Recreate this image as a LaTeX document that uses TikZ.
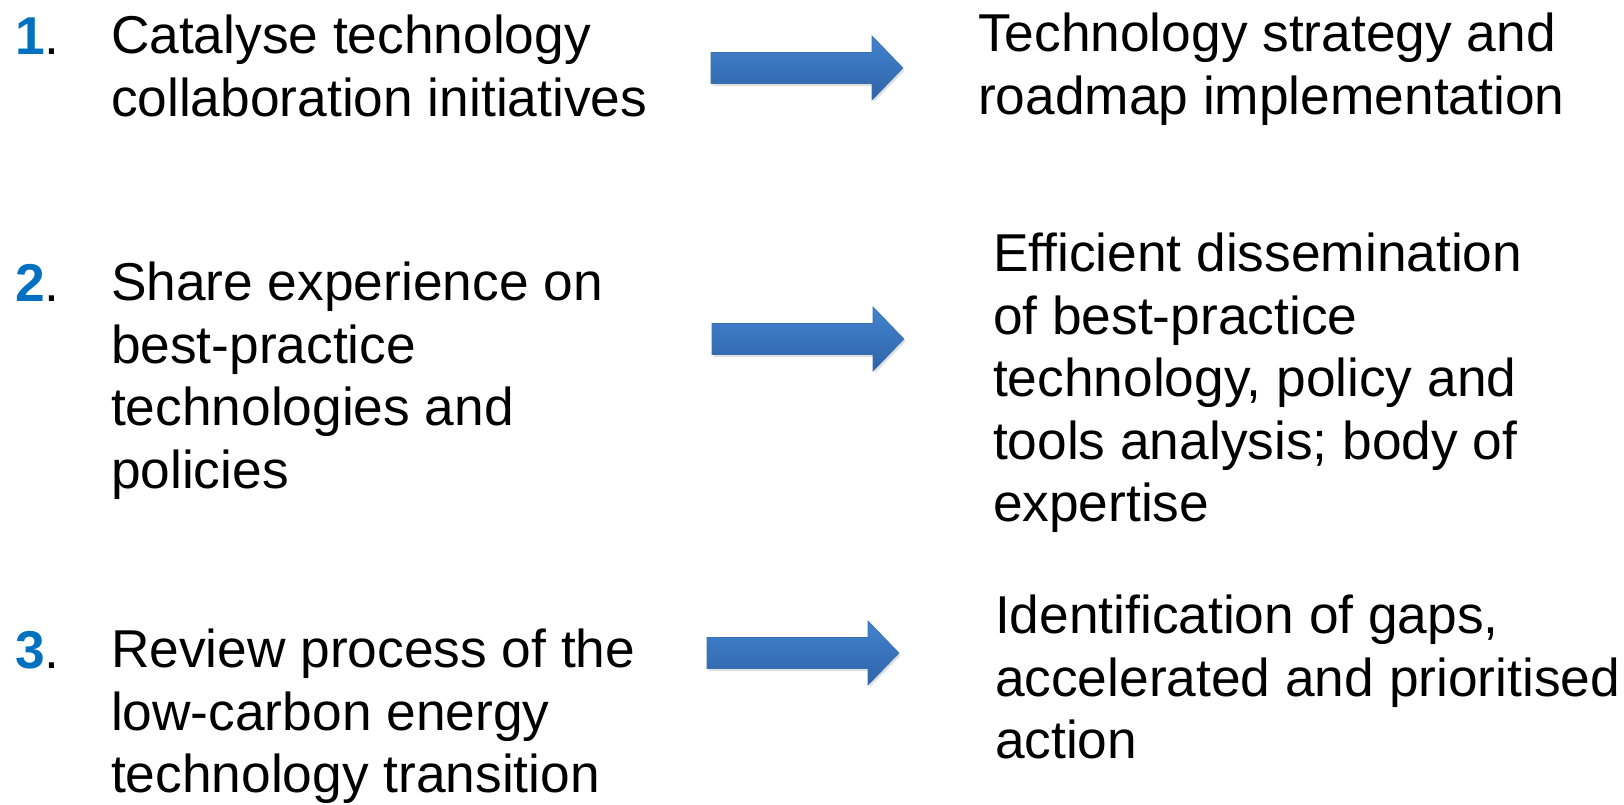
\documentclass[tikz,border=0pt]{standalone}
\usepackage{fontspec}
\setmainfont{Liberation Sans}
\usetikzlibrary{shadows}
\definecolor{numblue}{HTML}{0070C0}
\definecolor{arrtop}{HTML}{4383CF}
\definecolor{arrbot}{HTML}{2E63A8}
\definecolor{arredge}{HTML}{3A6FB0}

\tikzset{
  pics/bluearrow/.style={code={
    \path[blockarrow] (0,-15.5) -- (161,-15.5) -- (161,-32) -- (192,0)
      -- (161,32) -- (161,15.5) -- (0,15.5) -- cycle;
  }}
}

\begin{document}
\begin{tikzpicture}[x=1pt,y=-1pt,
  txt/.style={anchor=north west, inner sep=0pt, outer sep=0pt, align=left,
    font=\fontsize{53.3}{62.5}\selectfont},
  num/.style={anchor=base west, inner sep=0pt, outer sep=0pt,
    font=\fontsize{53.3}{62.5}\selectfont\bfseries, text=numblue},
  dot/.style={anchor=base west, inner sep=0pt, outer sep=0pt,
    font=\fontsize{53.3}{62.5}\selectfont},
  blockarrow/.style={draw=arredge, line width=0.6pt, top color=arrtop,
    bottom color=arrbot,
    drop shadow={opacity=0.25, shadow xshift=1.5pt, shadow yshift=-2.5pt}}]

  \fill[white] (0,0) rectangle (1624,804);
  \useasboundingbox (0,0) rectangle (1624,804);

  % numbered actions (left column)
  \node[num] (n1) at (16,54) {1};
  \node[dot] (d1) at (44,54) {.};
  \node[txt] (l1) at (111,15) {Catalyse technology\\collaboration initiatives};

  \node[num] (n2) at (16,301) {2};
  \node[dot] (d2) at (44,301) {.};
  \node[txt] (l2) at (111,262) {Share experience on\\best-practice\\technologies and\\policies};

  \node[num] (n3) at (16,668) {3};
  \node[dot] (d3) at (44,668) {.};
  \node[txt] (l3) at (111,629) {Review process of the\\low-carbon energy\\technology transition};

  % outcomes (right column)
  \node[txt] (r1) at (978,13) {Technology strategy and\\roadmap implementation};
  \node[txt] (r2) at (993,233) {Efficient dissemination\\of best-practice\\technology, policy and\\tools analysis; body of\\expertise};
  \node[txt] (r3) at (995,595) {Identification of gaps,\\accelerated and prioritised\\action};

  % block arrows linking each action to its outcome
  \pic (a1) at (711,68) {bluearrow};
  \pic (a2) at (712,339) {bluearrow};
  \pic (a3) at (707,653) {bluearrow};
\end{tikzpicture}
\end{document}
